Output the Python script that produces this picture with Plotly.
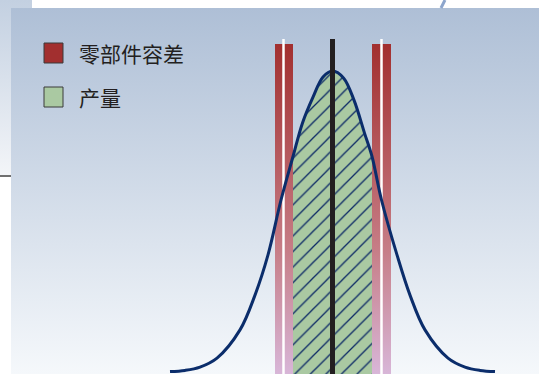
import plotly.graph_objects as go

# ---- data (x: deviation units, y: relative frequency) ----
curve_x = [-3.25, -2.95, -2.65, -2.31, -1.85, -1.55, -1.29, -1.03, -0.79, -0.6, -0.39, -0.19,
           0.0, 0.22, 0.43, 0.64, 0.79, 0.98, 1.29, 1.55, 1.85, 2.31, 2.65, 2.95, 3.25]
curve_y = [0.008, 0.012, 0.023, 0.053, 0.147, 0.263, 0.397, 0.58, 0.725, 0.837, 0.923, 0.99,
           1.01, 0.987, 0.913, 0.803, 0.725, 0.58, 0.397, 0.263, 0.147, 0.053, 0.023, 0.012, 0.008]
tol_outer = [-1.15, 1.17]     # outer edges of the tolerance bands
tol_inner = [-0.79, 0.79]     # inner edges of the tolerance bands
tol_mark = [-0.98, 0.98]      # white marker lines inside the bands
nominal = 0.0
band_top = 1.10
line_top = 1.117
legend_labels = ["零部件容差", "产量"]

# ---- geometry of the canvas ----
W, H = 539, 374
X_RANGE = [-6.65, 4.13]
Y_RANGE = [0.0, 1.2467]
panel_x = [-6.43, 4.13]
panel_top = 1.22

RED_TOP = "#a22f2f"
GREEN = "#aac9a2"
NAVY = "#0b2d6b"

fig = go.Figure()

# background panel with vertical gradient
fig.add_trace(go.Scatter(
    x=[panel_x[0], panel_x[1], panel_x[1], panel_x[0], panel_x[0]],
    y=[0, 0, panel_top, panel_top, 0],
    mode="lines", line=dict(width=0), fill="toself",
    fillgradient=dict(type="vertical", start=0, stop=panel_top,
                      colorscale=[[0, "#f5f8fb"], [1, "#aebfd6"]]),
    hoverinfo="skip", showlegend=False))

# left decorative strip
fig.add_trace(go.Scatter(
    x=[X_RANGE[0], panel_x[0], panel_x[0], -6.01, -6.01, X_RANGE[0], X_RANGE[0]],
    y=[0.663, 0.663, panel_top, panel_top, Y_RANGE[1], Y_RANGE[1], 0.663],
    mode="lines", line=dict(width=0), fill="toself",
    fillgradient=dict(type="vertical", start=0.663, stop=Y_RANGE[1],
                      colorscale=[[0, "#f3f5f8"], [1, "#c3d0e1"]]),
    hoverinfo="skip", showlegend=False))
fig.add_trace(go.Scatter(
    x=[X_RANGE[0], panel_x[0]], y=[0.66, 0.66], mode="lines",
    line=dict(color="#707070", width=2), hoverinfo="skip", showlegend=False))
fig.add_trace(go.Scatter(
    x=[2.25, 2.17], y=[Y_RANGE[1], panel_top], mode="lines",
    line=dict(color="#8ca5cc", width=3), hoverinfo="skip", showlegend=False))

# hatched green production area between the inner tolerance limits
gx = [x for x in curve_x if tol_inner[0] <= x <= tol_inner[1]]
gy = [y for x, y in zip(curve_x, curve_y) if tol_inner[0] <= x <= tol_inner[1]]
fig.add_trace(go.Scatter(
    x=gx, y=gy, mode="lines", line=dict(width=0, shape="spline", smoothing=1.0),
    fill="tozeroy", fillcolor=GREEN,
    fillpattern=dict(shape="/", bgcolor=GREEN, fgcolor="#0d2a66", fgopacity=1,
                     size=11, solidity=0.12),
    hoverinfo="skip", showlegend=False))

# tolerance bands
for a, b in [(tol_outer[0], tol_inner[0]), (tol_inner[1], tol_outer[1])]:
    fig.add_trace(go.Scatter(
        x=[a, b, b, a, a], y=[0, 0, band_top, band_top, 0],
        mode="lines", line=dict(width=0), fill="toself",
        fillgradient=dict(type="vertical", start=0, stop=band_top,
                          colorscale=[[0, "#d8b6d8"], [0.38, "#c67d86"], [1, RED_TOP]]),
        hoverinfo="skip", showlegend=False))
for xm in tol_mark:
    fig.add_trace(go.Scatter(
        x=[xm, xm], y=[0, line_top], mode="lines",
        line=dict(color="white", width=2.5), hoverinfo="skip", showlegend=False))

# distribution curve
fig.add_trace(go.Scatter(
    x=curve_x, y=curve_y, mode="lines",
    line=dict(color=NAVY, width=3, shape="spline", smoothing=1.0),
    hoverinfo="skip", showlegend=False))

# nominal line
fig.add_trace(go.Scatter(
    x=[nominal, nominal], y=[0, line_top], mode="lines",
    line=dict(color="#231f20", width=5), hoverinfo="skip", showlegend=False))

# legend drawn with shapes + text
def px_x(p):
    return p / W

def px_y(p):
    return 1 - p / H

legend_colors = [RED_TOP, GREEN]
legend_rows = [53, 97]
shapes = []
annotations = []
for lab, col, yc in zip(legend_labels, legend_colors, legend_rows):
    shapes.append(dict(type="rect", xref="paper", yref="paper",
                       x0=px_x(44), x1=px_x(63), y0=px_y(yc + 10), y1=px_y(yc - 10),
                       fillcolor=col, line=dict(color="#3a3a3a", width=1)))
    annotations.append(dict(xref="paper", yref="paper", x=px_x(77), y=px_y(yc),
                            xanchor="left", yanchor="middle", text=lab, showarrow=False,
                            font=dict(family="Noto Sans CJK SC", size=21, color="#231f20")))

fig.update_layout(
    width=W, height=H, margin=dict(l=0, r=0, t=0, b=0),
    paper_bgcolor="white", plot_bgcolor="white",
    xaxis=dict(range=X_RANGE, visible=False, fixedrange=True),
    yaxis=dict(range=Y_RANGE, visible=False, fixedrange=True),
    shapes=shapes, annotations=annotations, showlegend=False)

fig.write_html("out.html", config={"displayModeBar": False},
               post_script="document.body.style.margin='0';document.body.style.overflow='hidden';")
